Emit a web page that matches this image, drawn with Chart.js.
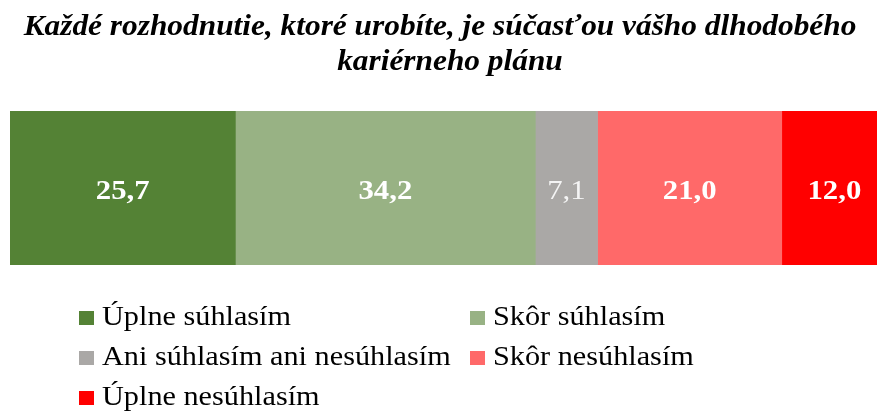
<!DOCTYPE html>
<html>
<head>
<meta charset="utf-8">
<script src="https://cdn.jsdelivr.net/npm/chart.js@4/dist/chart.umd.min.js"></script>
<style>
html, body { margin: 0; padding: 0; overflow: hidden; background: #fff; }
</style>
</head>
<body>
<canvas id="myChart"></canvas>
<script>
// data
const titleLines = ['Každé rozhodnutie, ktoré urobíte, je súčasťou vášho dlhodobého', 'kariérneho plánu']
const categories = ['']
const seriesNames = ['Úplne súhlasím', 'Skôr súhlasím', 'Ani súhlasím ani nesúhlasím', 'Skôr nesúhlasím', 'Úplne nesúhlasím']
const seriesValues = [25.7, 34.2, 7.1, 21.0, 12.0]
const valueLabels = ['25,7', '34,2', '7,1', '21,0', '12,0']
const colors = ['#548235', '#98B284', '#AAA8A6', '#FF6969', '#FF0000']

const serif = '"Liberation Serif", "Times New Roman", serif'
// the original picture is a bit wider than tall, so text gets stretched sideways
const stretch = 1.1

function wideText(ctx, text, x, y) {
    ctx.save()
    ctx.translate(x, y)
    ctx.scale(stretch, 1)
    ctx.fillText(text, 0, 0)
    ctx.restore()
}

// title, drawn centred over the page
const titlePlugin = {
    id: 'titleText',
    afterDraw(chart) {
        const ctx = chart.ctx
        ctx.save()
        ctx.fillStyle = '#000'
        ctx.font = 'italic bold 28.5px ' + serif
        ctx.textAlign = 'center'
        ctx.textBaseline = 'alphabetic'
        wideText(ctx, titleLines[0], 440, 35)
        wideText(ctx, titleLines[1], 450, 70)
        ctx.restore()
    }
}

// value labels in the middle of each segment
const valuePlugin = {
    id: 'valueText',
    afterDatasetsDraw(chart) {
        const ctx = chart.ctx
        ctx.save()
        ctx.textAlign = 'center'
        ctx.textBaseline = 'alphabetic'
        chart.data.datasets.forEach((ds, i) => {
            const bar = chart.getDatasetMeta(i).data[0]
            const cx = (bar.x + bar.base) / 2
            if (i === 2) {
                ctx.font = '28px ' + serif
                ctx.fillStyle = '#F4F4F4'
            } else {
                ctx.font = 'bold 28px ' + serif
                ctx.fillStyle = '#FFFFFF'
            }
            wideText(ctx, valueLabels[i], cx, bar.y + 11)
        })
        ctx.restore()
    }
}

// legend in two columns
const legendPlugin = {
    id: 'legendGrid',
    afterDraw(chart) {
        const ctx = chart.ctx
        const colX = [79, 470]
        ctx.save()
        ctx.font = '27.5px ' + serif
        ctx.textBaseline = 'alphabetic'
        ctx.textAlign = 'left'
        seriesNames.forEach((name, i) => {
            const x = colX[i % 2]
            const y = 325 + Math.floor(i / 2) * 40
            ctx.fillStyle = colors[i]
            ctx.fillRect(x, y - 14, 15, 14)
            ctx.fillStyle = '#000'
            wideText(ctx, name, x + 23, y)
        })
        ctx.restore()
    }
}

const chart = document.getElementById('myChart')
chart.width = 887
chart.height = 412
const ctx = chart.getContext('2d')
new Chart(ctx, {
    type: 'bar',
    data: {
        labels: categories,
        datasets: seriesNames.map((name, i) => ({
            label: name,
            data: [seriesValues[i]],
            backgroundColor: colors[i],
            borderWidth: 0,
            barPercentage: 1,
            categoryPercentage: 1
        }))
    },
    options: {
        indexAxis: 'y',
        responsive: false,
        animation: false,
        layout: { padding: { left: 10, right: 0, top: 111, bottom: 147 } },
        plugins: {
            legend: { display: false },
            title: { display: false },
            tooltip: { enabled: false }
        },
        scales: {
            x: { stacked: true, min: 0, max: 100, display: false },
            y: { stacked: true, display: false }
        }
    },
    plugins: [titlePlugin, valuePlugin, legendPlugin]
})
</script>
</body>
</html>
